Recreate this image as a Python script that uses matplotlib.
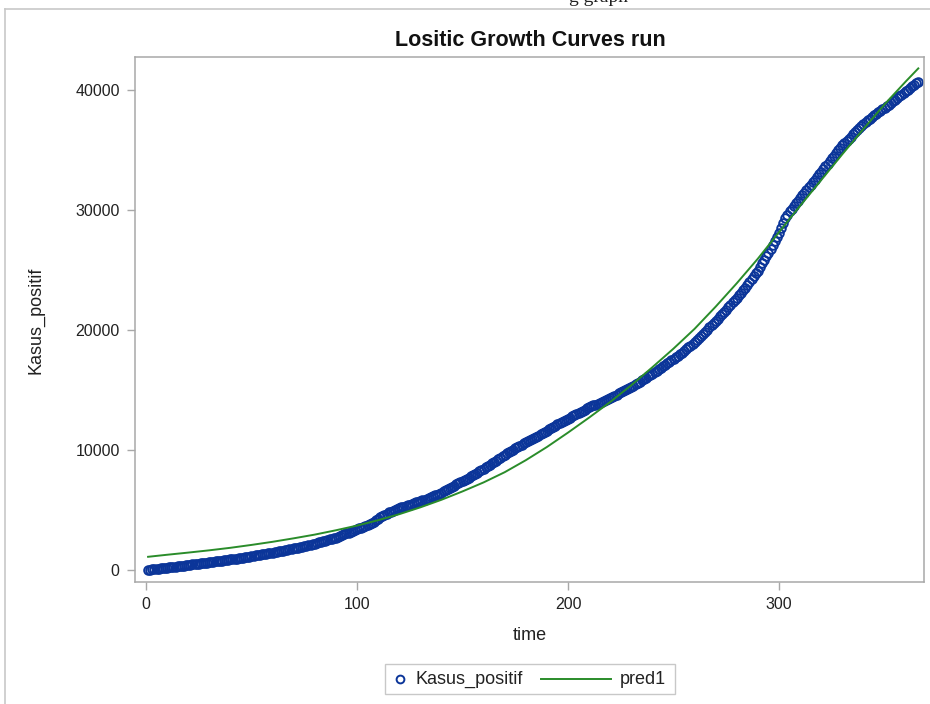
import numpy as np
import matplotlib
matplotlib.use("Agg")
import matplotlib.pyplot as plt
from matplotlib.lines import Line2D
from matplotlib.patches import Rectangle

plt.rcParams['font.family'] = ['Liberation Sans', 'DejaVu Sans']

title = "Lositic Growth Curves run"
x_label = "time"
y_label = "Kasus_positif"
series_names = ["Kasus_positif", "pred1"]
x_ticks = [0, 100, 200, 300]
y_ticks = [0, 10000, 20000, 30000, 40000]

time = list(range(1, 367))
kasus_positif = [
    10, 25, 45, 70, 90, 110, 130, 150, 175, 200,
    220, 240, 260, 280, 300, 325, 350, 370, 395, 420,
    440, 465, 485, 510, 530, 555, 580, 600, 625, 650,
    670, 695, 715, 740, 760, 785, 810, 830, 855, 880,
    900, 925, 950, 975, 1000, 1030, 1060, 1090, 1120, 1150,
    1180, 1210, 1240, 1270, 1300, 1330, 1360, 1390, 1420, 1450,
    1485, 1515, 1550, 1585, 1620, 1655, 1690, 1725, 1765, 1800,
    1840, 1875, 1915, 1950, 1990, 2030, 2070, 2115, 2155, 2200,
    2250, 2300, 2350, 2400, 2450, 2500, 2550, 2600, 2650, 2700,
    2770, 2840, 2910, 2980, 3050, 3120, 3190, 3260, 3330, 3400,
    3470, 3540, 3610, 3680, 3750, 3830, 3920, 4020, 4140, 4260,
    4380, 4500, 4600, 4700, 4800, 4870, 4940, 5010, 5080, 5150,
    5210, 5270, 5330, 5390, 5450, 5510, 5570, 5630, 5690, 5750,
    5810, 5870, 5930, 5990, 6050, 6130, 6210, 6290, 6370, 6450,
    6550, 6650, 6750, 6850, 6950, 7040, 7130, 7220, 7310, 7400,
    7500, 7600, 7700, 7800, 7900, 8010, 8120, 8230, 8340, 8450,
    8560, 8670, 8780, 8890, 9000, 9120, 9240, 9360, 9480, 9600,
    9710, 9820, 9930, 10040, 10150, 10250, 10350, 10450, 10550, 10650,
    10740, 10830, 10920, 11010, 11100, 11200, 11300, 11400, 11500, 11600,
    11710, 11820, 11930, 12040, 12150, 12240, 12330, 12420, 12510, 12600,
    12700, 12800, 12900, 13000, 13100, 13190, 13280, 13370, 13460, 13550,
    13630, 13710, 13790, 13870, 13950, 14030, 14110, 14190, 14270, 14350,
    14440, 14530, 14620, 14710, 14800, 14890, 14980, 15070, 15160, 15250,
    15360, 15470, 15580, 15690, 15800, 15910, 16020, 16130, 16240, 16350,
    16480, 16610, 16740, 16870, 17000, 17120, 17240, 17360, 17480, 17600,
    17730, 17860, 17990, 18120, 18250, 18400, 18550, 18700, 18850, 19000,
    19170, 19340, 19510, 19680, 19850, 20030, 20210, 20390, 20570, 20750,
    20940, 21130, 21320, 21510, 21700, 21900, 22100, 22300, 22500, 22700,
    22910, 23120, 23330, 23540, 23750, 23990, 24230, 24470, 24710, 24950,
    25250, 25550, 25850, 26150, 26450, 26780, 27110, 27440, 27770, 28100,
    28500, 28900, 29300, 29600, 29900, 30120, 30340, 30560, 30780, 31000,
    31220, 31440, 31660, 31880, 32100, 32320, 32540, 32760, 32980, 33200,
    33420, 33640, 33860, 34080, 34300, 34520, 34740, 34960, 35180, 35400,
    35580, 35760, 35940, 36120, 36300, 36480, 36660, 36840, 37020, 37200,
    37340, 37480, 37620, 37760, 37900, 38020, 38140, 38260, 38380, 38500,
    38640, 38780, 38920, 39060, 39200, 39340, 39480, 39620, 39760, 39900,
    40030, 40160, 40300, 40430, 40570, 40700,
]

pred_time = [1, 10, 20, 30, 40, 50, 60, 70, 80, 90, 100, 110, 120, 130, 140,
             150, 160, 170, 180, 190, 200, 210, 220, 230, 240, 250, 260, 270,
             280, 290, 300, 310, 320, 330, 340, 350, 360, 366]
pred1 = [1100, 1270, 1450, 1640, 1850, 2090, 2350, 2640, 2950, 3310, 3700,
         4150, 4650, 5220, 5850, 6550, 7300, 8150, 9150, 10250, 11450, 12700,
         14000, 15400, 16900, 18450, 20100, 21950, 23900, 25950, 28150,
         30350, 32500, 34650, 36750, 38800, 40700, 41800]

W, H = 930, 704
fig = plt.figure(figsize=(W / 100, H / 100), dpi=100)


def fx(px):
    return px / W


def fy(py):
    return 1 - py / H


# outer frame (partially cut)
frame_col = '#c8c8c8'
fig.add_artist(Line2D([fx(5), fx(5)], [0, fy(9)], color=frame_col, lw=1.2, transform=fig.transFigure))
fig.add_artist(Line2D([fx(5), 1], [fy(9), fy(9)], color=frame_col, lw=1.2, transform=fig.transFigure))

# clipped caption at very top
fig.text(fx(598), fy(2), "g graph", family='Liberation Serif', fontsize=14,
         ha='center', va='baseline', color='#222222')

ax_l, ax_r, ax_t, ax_b = 135, 924, 57, 582
ax = fig.add_axes([fx(ax_l), fy(ax_b), (ax_r - ax_l) / W, (ax_b - ax_t) / H])

blue = '#0b3599'
green = '#2a8c2a'
ax.plot(time, kasus_positif, linestyle='none', marker='o', markersize=6.2,
        markerfacecolor='none', markeredgecolor=blue, markeredgewidth=1.4,
        zorder=2)
ax.plot(pred_time, pred1, color=green, lw=1.4, zorder=3)

ax.set_xlim(-5.2, 368.7)
ax.set_ylim(-1000, 42750)
ax.set_xticks(x_ticks)
ax.set_yticks(y_ticks)
ax.set_xticklabels([str(v) for v in x_ticks])
ax.set_yticklabels([str(v) for v in y_ticks])

spine_col = '#a8a8a8'
for s in ax.spines.values():
    s.set_color(spine_col)
    s.set_linewidth(1.1)
ax.tick_params(axis='both', direction='out', length=6, width=1, color=spine_col,
               labelsize=11.5, labelcolor='#222222', pad=5)

txt_col = '#222222'
fig.text(fx(530), fy(636), x_label, ha='center', va='center', fontsize=13, color=txt_col)
fig.text(fx(36), fy(320), y_label, ha='center', va='center', rotation=90,
         fontsize=13, color=txt_col)
fig.text(fx(530), fy(40), title, ha='center', va='center', fontsize=15.5,
         fontweight='bold', color='#111111')

# legend (drawn manually to match compact SAS layout)
fig.add_artist(Rectangle((fx(385), fy(694)), (675 - 385) / W, 30 / H,
                         transform=fig.transFigure, facecolor='white',
                         edgecolor='#c8c8c8', lw=1.0))
fig.add_artist(Line2D([fx(400)], [fy(679)], linestyle='none', marker='o',
                      markersize=5.6, markerfacecolor='none', markeredgecolor=blue,
                      markeredgewidth=1.4, transform=fig.transFigure))
fig.text(fx(415), fy(679), series_names[0], ha='left', va='center', fontsize=13, color=txt_col)
fig.add_artist(Line2D([fx(541), fx(611)], [fy(679), fy(679)], color=green, lw=1.4,
                      transform=fig.transFigure))
fig.text(fx(620), fy(679), series_names[1], ha='left', va='center', fontsize=13, color=txt_col)

fig.savefig('out.png', dpi=100)
